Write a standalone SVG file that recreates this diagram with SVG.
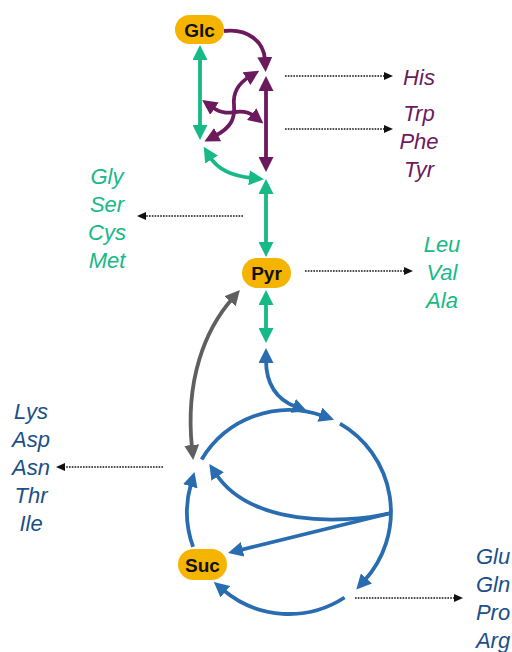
<svg xmlns="http://www.w3.org/2000/svg" width="512" height="652" viewBox="0 0 512 652">
  <style>
    .pill { fill: #f5b400; }
    .pname { font-family: "Liberation Sans", Arial, sans-serif; font-weight: bold; font-size: 19px; fill: #111; text-anchor: middle; }
    .aa { font-family: "Liberation Sans", Arial, sans-serif; font-style: italic; font-size: 22px; text-anchor: middle; }
    .purple-t { fill: #6b1a5e; }
    .green-t { fill: #17b987; }
    .blue-t { fill: #1b4f86; }
    .c { fill: none; stroke-width: 3.8; }
    .purple { stroke: #6b1a5e; }
    .green { stroke: #17b987; }
    .blue { stroke: #2a6cb0; }
    .gray { stroke: #5f5f5f; }
    .dot { fill: none; stroke: #111; stroke-width: 1.4; stroke-dasharray: 1.6 1.2; }
  </style>
  <defs>
    <marker id="ahP" markerUnits="userSpaceOnUse" markerWidth="15" markerHeight="15" refX="3" refY="7.5" orient="auto-start-reverse">
      <path d="M0,0 L15,7.5 L0,15 z" fill="#6b1a5e"/>
    </marker>
    <marker id="ahG" markerUnits="userSpaceOnUse" markerWidth="15" markerHeight="15" refX="3" refY="7.5" orient="auto-start-reverse">
      <path d="M0,0 L15,7.5 L0,15 z" fill="#17b987"/>
    </marker>
    <marker id="ahB" markerUnits="userSpaceOnUse" markerWidth="15" markerHeight="15" refX="3" refY="7.5" orient="auto-start-reverse">
      <path d="M0,0 L15,7.5 L0,15 z" fill="#2a6cb0"/>
    </marker>
    <marker id="ahK" markerUnits="userSpaceOnUse" markerWidth="15" markerHeight="15" refX="3" refY="7.5" orient="auto-start-reverse">
      <path d="M0,0 L15,7.5 L0,15 z" fill="#5f5f5f"/>
    </marker>
    <marker id="ahD" markerUnits="userSpaceOnUse" markerWidth="9" markerHeight="8" refX="1" refY="4" orient="auto">
      <path d="M0,0 L9,4 L0,8 z" fill="#111"/>
    </marker>
  </defs>

  <g id="connectors">
    <!-- glycolysis, upper part -->
    <path class="c purple" d="M224,31 C248,28 264,42 265,60" marker-end="url(#ahP)"/>
    <path class="c purple" d="M266,88 L266,160" marker-start="url(#ahP)" marker-end="url(#ahP)"/>
    <path class="c green" d="M200,57 L200,128" marker-start="url(#ahG)" marker-end="url(#ahG)"/>
    <path class="c purple" d="M249,77 C236,85 233,95 234,105 C235,118 232,127 215,136" marker-start="url(#ahP)" marker-end="url(#ahP)"/>
    <path class="c purple" d="M212,107 C222,114 228,113 235,112 C243,111 249,112 254,116" marker-start="url(#ahP)" marker-end="url(#ahP)"/>
    <path class="c green" d="M210,157 C218,170 232,176 252,178" marker-start="url(#ahG)" marker-end="url(#ahG)"/>
    <path class="c green" d="M266,191 L266,245" marker-start="url(#ahG)" marker-end="url(#ahG)"/>
    <path class="c green" d="M266,302 L266,331" marker-start="url(#ahG)" marker-end="url(#ahG)"/>

    <!-- TCA cycle -->
    <path class="c blue" d="M266,360 C266,385 278,400 296,407" marker-start="url(#ahB)" marker-end="url(#ahB)"/>
    <path class="c blue" d="M201.6,459.5 A102,102 0 0 1 322.7,415.7" marker-end="url(#ahB)"/>
    <path class="c blue" d="M340,423.7 A102,102 0 0 1 364.4,580.6" marker-end="url(#ahB)"/>
    <path class="c blue" d="M344.6,597.5 A102,102 0 0 1 223,589.8" marker-end="url(#ahB)"/>
    <path class="c blue" d="M193.1,546.9 A102,102 0 0 1 191.1,483.4" marker-end="url(#ahB)"/>
    <path class="c blue" d="M391,513 L239.7,550.1" marker-end="url(#ahB)"/>
    <path class="c blue" d="M391,513 C340,525 250,525 216,474" marker-end="url(#ahB)"/>
    <path class="c gray" d="M232,299 C205,330 185,380 192,448" marker-start="url(#ahK)" marker-end="url(#ahK)"/>

    <!-- dotted branches to amino acids -->
    <path class="dot" d="M285,76 L385,76" marker-end="url(#ahD)"/>
    <path class="dot" d="M285,129 L385,129" marker-end="url(#ahD)"/>
    <path class="dot" d="M243,216 L145,216" marker-end="url(#ahD)"/>
    <path class="dot" d="M305,271 L405,271" marker-end="url(#ahD)"/>
    <path class="dot" d="M163,467 L64,467" marker-end="url(#ahD)"/>
    <path class="dot" d="M355,598 L455,598" marker-end="url(#ahD)"/>
  </g>

  <g id="glc">
    <rect class="pill" x="175" y="15" width="49" height="29" rx="14.5"/>
    <text class="pname" x="199.5" y="36.5">Glc</text>
  </g>
  <g id="pyr">
    <rect class="pill" x="242" y="258" width="49" height="30" rx="15"/>
    <text class="pname" x="266.5" y="280">Pyr</text>
  </g>
  <g id="suc">
    <rect class="pill" x="178" y="549" width="49" height="31" rx="15.5"/>
    <text class="pname" x="202.5" y="571.5">Suc</text>
  </g>

  <g id="his">
    <text class="aa purple-t" x="419" y="85">His</text>
  </g>
  <g id="aromatic">
    <text class="aa purple-t" x="419" y="121">Trp</text>
    <text class="aa purple-t" x="419" y="149">Phe</text>
    <text class="aa purple-t" x="419" y="177">Tyr</text>
  </g>
  <g id="serine-family">
    <text class="aa green-t" x="107" y="184">Gly</text>
    <text class="aa green-t" x="107" y="212">Ser</text>
    <text class="aa green-t" x="107" y="240">Cys</text>
    <text class="aa green-t" x="107" y="268">Met</text>
  </g>
  <g id="pyruvate-family">
    <text class="aa green-t" x="442" y="252">Leu</text>
    <text class="aa green-t" x="442" y="280">Val</text>
    <text class="aa green-t" x="442" y="308">Ala</text>
  </g>
  <g id="aspartate-family">
    <text class="aa blue-t" x="31" y="419">Lys</text>
    <text class="aa blue-t" x="31" y="447">Asp</text>
    <text class="aa blue-t" x="31" y="475">Asn</text>
    <text class="aa blue-t" x="31" y="503">Thr</text>
    <text class="aa blue-t" x="31" y="531">Ile</text>
  </g>
  <g id="glutamate-family">
    <text class="aa blue-t" x="493" y="564">Glu</text>
    <text class="aa blue-t" x="493" y="592">Gln</text>
    <text class="aa blue-t" x="493" y="620">Pro</text>
    <text class="aa blue-t" x="493" y="648">Arg</text>
  </g>
</svg>
